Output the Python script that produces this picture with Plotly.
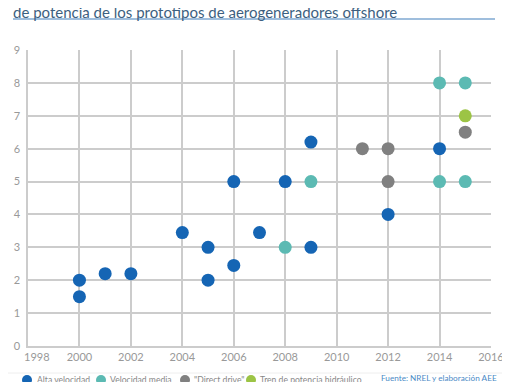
import plotly.graph_objects as go

# ---- data ----
alta_x = [2000, 2000, 2001, 2002, 2004, 2005, 2005, 2006, 2006, 2007, 2008, 2009, 2009, 2012, 2014]
alta_y = [2.0, 1.5, 2.2, 2.2, 3.45, 3.0, 2.0, 5.0, 2.45, 3.45, 5.0, 6.2, 3.0, 4.0, 6.0]
media_x = [2008, 2009, 2014, 2015, 2014, 2015]
media_y = [3.0, 5.0, 8.0, 8.0, 5.0, 5.0]
direct_x = [2011, 2012, 2012, 2015]
direct_y = [6.0, 6.0, 5.0, 6.5]
hidra_x = [2015]
hidra_y = [7.0]

series_names = ["Alta velocidad", "Velocidad media", "\"Direct drive\"", "Tren de potencia hidráulico"]
series_colors = ["#1565b4", "#5cbab3", "#808080", "#9cc445"]

x_ticks = [1998, 2000, 2002, 2004, 2006, 2008, 2010, 2012, 2014, 2016]
y_ticks = list(range(0, 10))

title_l1 = "Evolución de la potencia nominal (en MW) y del tipo de arquitectura del tren"
title_l2 = "de potencia de los prototipos de aerogeneradores offshore"
source = "Fuente: NREL y elaboración AEE"

FONT = "Lato"
# the page body adds an 8px margin, so the figure is drawn 8px smaller
OFF = 8
L, T, PW, PH = 28 - OFF, 50 - OFF, 463, 296
W, H = 510 - OFF, 382 - OFF


def py(page_y):
    """page y pixel -> paper y"""
    return (T + PH - (page_y - OFF)) / PH


def px(page_x):
    """page x pixel -> paper x"""
    return (page_x - OFF - L) / PW


fig = go.Figure()
for xs, ys, name, col in zip([alta_x, media_x, direct_x, hidra_x],
                             [alta_y, media_y, direct_y, hidra_y],
                             series_names, series_colors):
    fig.add_trace(go.Scatter(x=xs, y=ys, mode="markers", name=name,
                             marker=dict(size=13, color=col, line=dict(width=0)),
                             cliponaxis=False, showlegend=False))

# first tick label drawn separately (shifted right, as in the reference)
x_ticktext = [""] + [str(v) for v in x_ticks[1:]]

fig.update_layout(
    width=W, height=H,
    margin=dict(l=L, r=W - L - PW, t=T, b=H - T - PH, autoexpand=False),
    paper_bgcolor="white", plot_bgcolor="white",
    font=dict(family=FONT, color="#999999", size=11),
    showlegend=False,
    xaxis=dict(range=[1998, 2016], tickvals=x_ticks, ticktext=x_ticktext, showgrid=True,
               automargin=False, gridcolor="#cccccc", gridwidth=1.5, showline=True,
               linecolor="#cccccc", linewidth=1.5, zeroline=False, ticks="",
               tickfont=dict(size=11, color="#999999"), fixedrange=True),
    yaxis=dict(range=[0, 9], tickvals=y_ticks, showgrid=True, automargin=False,
               gridcolor="#cccccc", gridwidth=1.5, showline=True, linecolor="#cccccc",
               linewidth=1.5, zeroline=False, ticks="", ticklabelstandoff=4,
               tickfont=dict(size=11, color="#999999"), fixedrange=True),
)

fig.add_annotation(xref="paper", yref="paper", x=px(37), y=py(356),
                   xanchor="center", yanchor="middle", showarrow=False,
                   text=str(x_ticks[0]), font=dict(family=FONT, size=11, color="#999999"))

# title (first line partially outside the top edge, as in the reference)
fig.add_annotation(xref="paper", yref="paper", x=px(11), y=py(23),
                   xanchor="left", yanchor="bottom", align="left", showarrow=False,
                   text=title_l1 + "<br>" + title_l2,
                   font=dict(family=FONT, size=15, color="#3d5f80"))
# underline of the title
fig.add_shape(type="line", xref="paper", yref="paper",
              x0=px(13), x1=px(495), y0=py(19), y1=py(19),
              line=dict(color="#7fa9d2", width=1.5))
# separator above legend
fig.add_shape(type="line", xref="paper", yref="paper",
              x0=px(0), x1=px(510), y0=py(373), y1=py(373),
              line=dict(color="#eeeeee", width=1))

# legend (key) at the bottom
key_marker_x = [27, 101, 185, 251]
key_text_x = [35, 108, 192, 258]
for mx, tx, name, col in zip(key_marker_x, key_text_x, series_names, series_colors):
    fig.add_shape(type="circle", xref="paper", yref="paper",
                  x0=px(mx - 5), x1=px(mx + 5), y0=py(385), y1=py(375),
                  fillcolor=col, line=dict(width=0))
    fig.add_annotation(xref="paper", yref="paper", x=px(tx), y=py(379.5),
                       xanchor="left", yanchor="middle", showarrow=False, text=name,
                       font=dict(family=FONT, size=8.6, color="#888888"))

# source
fig.add_annotation(xref="paper", yref="paper", x=px(499), y=py(378),
                   xanchor="right", yanchor="middle", showarrow=False, text=source,
                   font=dict(family=FONT, size=8.2, color="#4a8ac6"))

fig.write_html("out.html")
